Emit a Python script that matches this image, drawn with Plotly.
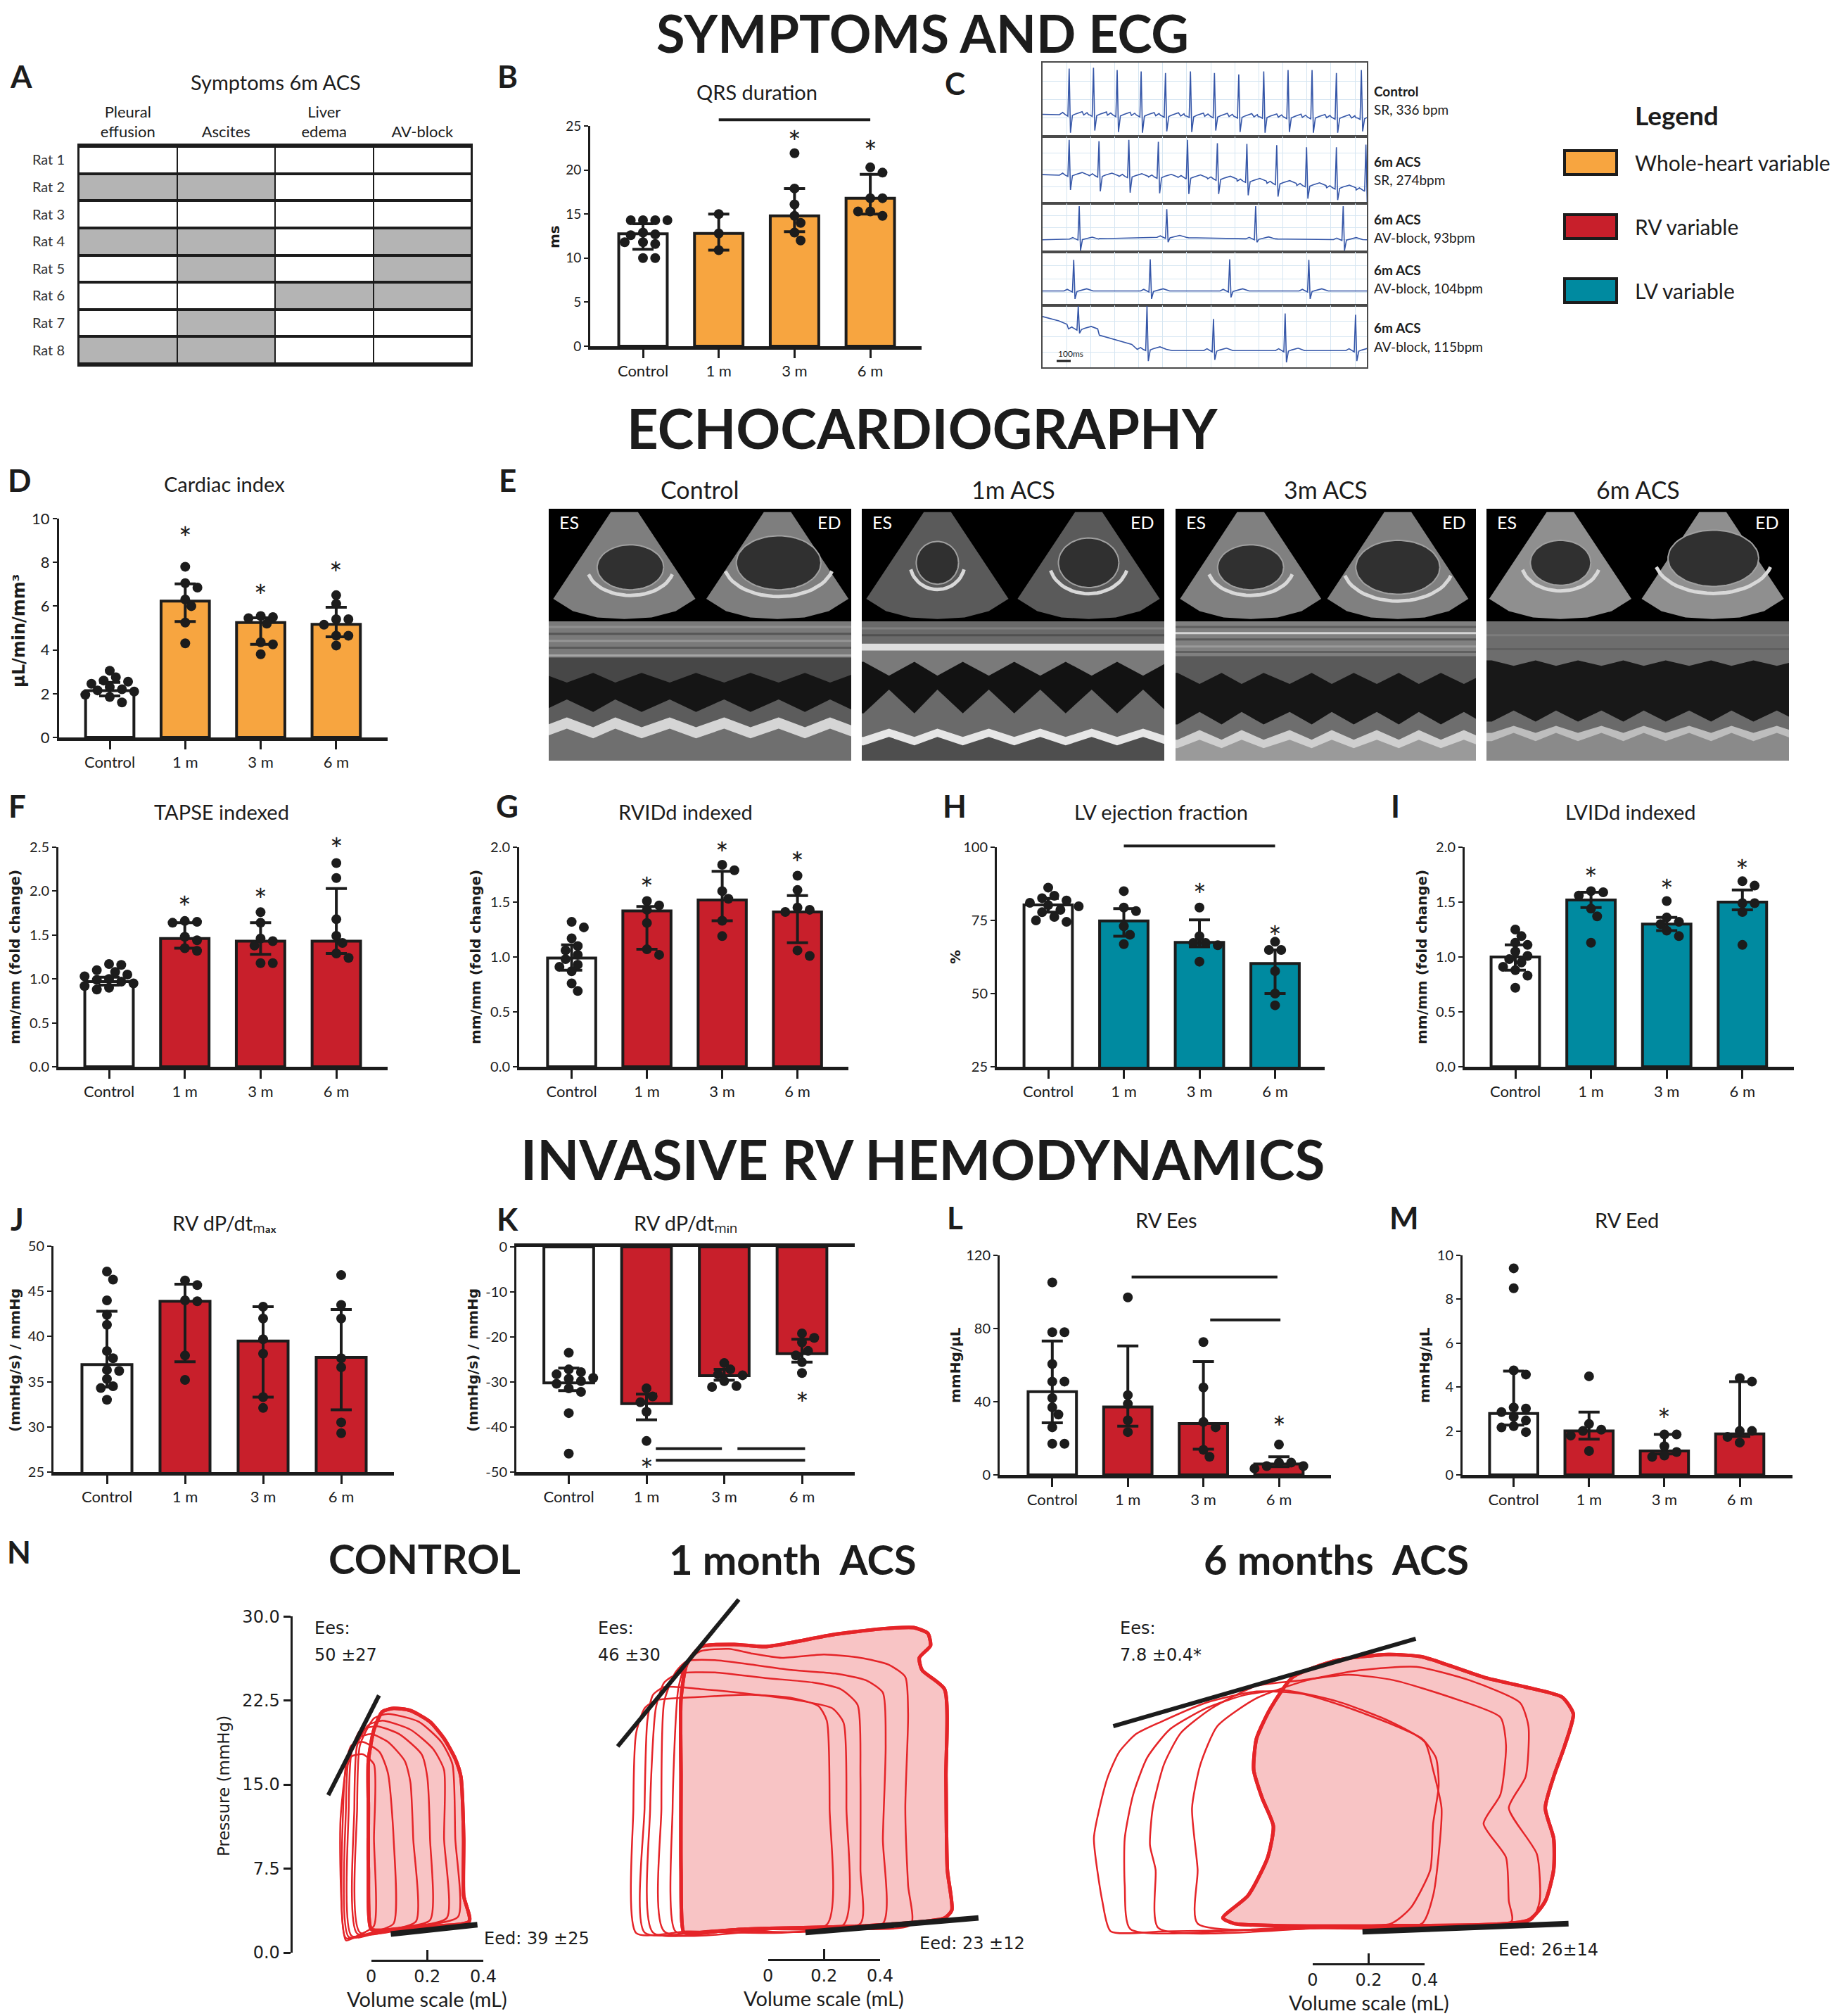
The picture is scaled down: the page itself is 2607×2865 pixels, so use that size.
import numpy as np
import plotly.graph_objects as go

W, H = 2607, 2865
FONT = "Lato, 'Open Sans', sans-serif"
PVFONT = "'DejaVu Sans', Verdana, sans-serif"
YT_FONT = "'DejaVu Sans', Verdana, sans-serif"
INK = "#1c1c1c"
ORANGE = "#F7A540"
RED = "#C81F2B"
TEAL = "#008AA0"
CELL_GREY = "#B4B4B4"
LOOP_RED = "#E52428"
LOOP_FILL = "#F8C4C5"
ECG_BLUE = "#3556A8"
GRID_BLUE = "#D6E6F2"

# ======================= DATA =======================
GROUPS = ["Control", "1 m", "3 m", "6 m"]

# A - symptoms table
SYMPTOMS = ["Pleural<br>effusion", "Ascites", "Liver<br>edema", "AV-block"]
RATS = ["Rat 1", "Rat 2", "Rat 3", "Rat 4", "Rat 5", "Rat 6", "Rat 7", "Rat 8"]
SYMPTOM_PRESENT = [[0, 0, 0, 0], [1, 1, 0, 0], [0, 0, 0, 0], [1, 1, 0, 1],
                   [0, 1, 0, 1], [0, 0, 1, 1], [0, 1, 0, 0], [1, 1, 0, 0]]

# B - QRS duration (ms)
QRS_BAR = [12.75, 12.8, 14.8, 16.8]
QRS_LO = [11.0, 10.9, 13.0, 15.0]
QRS_HI = [13.9, 15.0, 17.9, 19.5]
QRS_PTS = [[14.3, 14.3, 14.3, 14.3, 12.9, 12.7, 12.6, 11.8, 11.6, 11.8, 10.0, 10.0],
           [15.0, 12.8, 10.9],
           [21.9, 17.9, 16.1, 14.8, 14.0, 12.9, 12.0],
           [20.3, 19.7, 16.8, 16.8, 15.3, 14.8, 15.3]]

# D - cardiac index
CI_BAR = [2.14, 6.23, 5.25, 5.17]
CI_LO = [1.9, 5.3, 4.25, 4.6]
CI_HI = [2.52, 7.02, 5.47, 5.95]
CI_PTS = [[3.05, 2.75, 2.6, 2.55, 2.45, 2.3, 2.2, 2.15, 2.1, 1.95, 1.85, 1.6],
          [7.8, 7.05, 6.85, 6.3, 6.0, 5.25, 4.3],
          [5.55, 5.5, 5.45, 5.2, 4.35, 4.25, 3.8],
          [6.5, 6.1, 5.4, 5.4, 5.15, 4.65, 4.65, 4.2]]

# F - TAPSE indexed
TAPSE_BAR = [0.97, 1.46, 1.43, 1.43]
TAPSE_LO = [0.93, 1.35, 1.28, 1.29]
TAPSE_HI = [1.02, 1.64, 1.64, 2.03]
TAPSE_PTS = [[1.17, 1.16, 1.10, 1.08, 1.05, 1.03, 1.00, 0.99, 0.97, 0.95, 0.92, 0.90, 0.88],
             [1.66, 1.65, 1.64, 1.48, 1.44, 1.35, 1.32],
             [1.76, 1.64, 1.46, 1.43, 1.38, 1.18, 1.18],
             [2.32, 2.15, 1.68, 1.49, 1.41, 1.29, 1.24]]

# G - RVIDd indexed
RVIDD_BAR = [0.99, 1.42, 1.52, 1.41]
RVIDD_LO = [0.88, 1.07, 1.33, 1.13]
RVIDD_HI = [1.11, 1.46, 1.78, 1.56]
RVIDD_PTS = [[1.32, 1.27, 1.17, 1.10, 1.06, 1.02, 0.98, 0.93, 0.91, 0.87, 0.76, 0.69],
             [1.51, 1.47, 1.43, 1.31, 1.07, 1.02],
             [1.84, 1.79, 1.60, 1.53, 1.33, 1.19],
             [1.74, 1.61, 1.45, 1.43, 1.41, 1.06, 1.01]]

# H - LV ejection fraction (%)
LVEF_BAR = [80.3, 74.8, 67.5, 60.3]
LVEF_LO = [77.8, 69.6, 66.0, 50.0]
LVEF_HI = [82.5, 79.0, 75.2, 64.9]
LVEF_PTS = [[86.2, 83.4, 82.6, 81.8, 81.0, 80.2, 79.8, 78.6, 77.8, 76.2, 75.0, 74.5],
            [85.0, 79.4, 78.2, 73.0, 70.1, 66.9],
            [79.4, 69.6, 67.3, 67.3, 66.5, 60.9],
            [67.7, 64.9, 64.9, 57.7, 50.0, 46.0]]

# I - LVIDd indexed
LVIDD_BAR = [1.00, 1.52, 1.30, 1.50]
LVIDD_LO = [0.88, 1.45, 1.24, 1.43]
LVIDD_HI = [1.11, 1.59, 1.36, 1.61]
LVIDD_PTS = [[1.25, 1.19, 1.13, 1.11, 1.05, 1.01, 0.98, 0.95, 0.91, 0.88, 0.83, 0.72],
             [1.60, 1.59, 1.56, 1.44, 1.37, 1.13],
             [1.51, 1.36, 1.32, 1.30, 1.24, 1.19],
             [1.69, 1.65, 1.49, 1.49, 1.41, 1.11]]

# J - RV dP/dt max
DPMAX_BAR = [36.9, 43.9, 39.5, 37.7]
DPMAX_LO = [34.4, 37.2, 33.3, 31.9]
DPMAX_HI = [42.8, 45.8, 43.3, 43.0]
DPMAX_PTS = [[47.2, 46.3, 44.0, 42.4, 41.3, 38.4, 37.6, 36.3, 36.2, 35.3, 34.5, 34.3, 33.0],
             [46.2, 45.7, 44.0, 43.9, 37.9, 35.2],
             [43.3, 42.0, 39.7, 38.1, 33.3, 32.1],
             [46.8, 43.5, 42.0, 37.6, 36.6, 30.5, 29.3]]

# K - RV dP/dt min
DPMIN_BAR = [-30.2, -34.8, -28.6, -23.7]
DPMIN_LO = [-31.9, -38.4, -29.6, -25.6]
DPMIN_HI = [-26.9, -32.7, -27.2, -20.5]
DPMIN_PTS = [[-23.5, -27.2, -27.8, -28.3, -29.1, -29.3, -29.8, -30.4, -31.4, -32.2, -36.9, -45.9],
             [-31.4, -33.2, -34.5, -36.6, -43.1],
             [-25.8, -27.2, -28.3, -28.5, -29.8, -30.9, -31.1],
             [-19.2, -20.2, -21.2, -23.1, -24.1, -25.6, -28.0]]

# L - RV Ees
EES_BAR = [45.5, 37.1, 28.1, 6.0]
EES_LO = [28.5, 26.6, 14.0, 4.5]
EES_HI = [73.2, 70.5, 61.9, 9.9]
EES_PTS = [[105.2, 78, 78, 60.6, 51, 51, 42, 36.9, 33, 26, 17, 17],
           [97, 43.6, 38.8, 29.8, 23.4],
           [72.6, 47.8, 28.9, 26, 13.7, 9.9],
           [16.6, 6.7, 6.7, 4.8, 4.8, 3.5]]

# M - RV Eed
EED_BAR = [2.8, 2.0, 1.09, 1.87]
EED_LO = [2.27, 1.63, 0.95, 1.75]
EED_HI = [4.73, 2.86, 1.84, 4.25]
EED_PTS = [[9.41, 8.5, 4.76, 4.57, 3.07, 3.02, 2.86, 2.64, 2.48, 2.22, 2.16, 1.95],
           [4.49, 2.32, 2.06, 2.0, 1.79, 1.09],
           [1.84, 1.84, 1.31, 1.04, 0.88, 0.82],
           [4.41, 4.25, 2.0, 2.0, 1.73, 1.47]]

# C - ECG strips (R-peak positions as fraction of strip width, levels as fraction of height)
ECG_TITLES = ["Control", "6m ACS", "6m ACS", "6m ACS", "6m ACS"]
ECG_RHYTHM = ["SR, 336 bpm", "SR, 274bpm", "AV-block, 93bpm", "AV-block, 104bpm", "AV-block, 115bpm"]
ECG_PEAKS = [[0.082, 0.157, 0.230, 0.304, 0.379, 0.456, 0.530, 0.605, 0.682, 0.757, 0.831, 0.906, 0.983],
             [0.082, 0.174, 0.266, 0.357, 0.447, 0.539, 0.630, 0.722, 0.814, 0.906, 0.997],
             [0.113, 0.383, 0.657, 0.927],
             [0.096, 0.332, 0.577, 0.821],
             [0.110, 0.322, 0.527, 0.748, 0.965]]
ECG_TOPS = [[0.92, 0.93, 0.90, 0.88, 0.86, 0.88, 0.86, 0.84, 0.88, 0.90, 0.90, 0.86, 0.90],
            [0.95, 0.93, 0.95, 0.92, 0.95, 0.90, 0.89, 0.87, 0.84, 0.84, 0.88],
            [0.94, 0.88, 0.94, 0.94],
            [0.85, 0.86, 0.86, 0.85],
            [0.99, 0.99, 0.78, 0.87, 0.85]]
ECG_DIPS = [[0.05, 0.08, 0.06, 0.05, 0.07, 0.06, 0.08, 0.06, 0.05, 0.06, 0.05, 0.05, 0.07],
            [0.20, 0.18, 0.16, 0.15, 0.14, 0.14, 0.12, 0.10, 0.07, 0.05, 0.02],
            [0.03, 0.20, 0.20, 0.03],
            [0.12, 0.12, 0.15, 0.12],
            [0.55, 0.10, 0.12, 0.08, 0.10]]
ECG_BASE_X = [[0, 1], [0, 0.5, 1], [0, 0.38, 0.65, 1], [0, 1], [0, 0.05, 0.11, 0.2, 0.31, 0.33, 1]]
ECG_BASE_Y = [[0.30, 0.25], [0.43, 0.38, 0.20], [0.25, 0.30, 0.27, 0.25], [0.27, 0.27],
              [0.82, 0.75, 0.62, 0.48, 0.32, 0.27, 0.27]]

LEGEND_LABELS = ["Whole-heart variable", "RV variable", "LV variable"]
LEGEND_COLORS = [ORANGE, RED, TEAL]

# E - echo panels (picture descriptors)
ECHO_TITLES = ["Control", "1m ACS", "3m ACS", "6m ACS"]
FAN_CENTERS = [[0.25, 0.756], [0.25, 0.75], [0.25, 0.74], [0.244, 0.748]]
FAN_GREY = ["#7e7e7e", "#5a5a5a", "#808080", "#8f8f8f"]
CAVITIES = [[(0.27, 0.48, 0.11, 0.20), (0.76, 0.52, 0.14, 0.24)],
            [(0.25, 0.52, 0.07, 0.19), (0.75, 0.52, 0.10, 0.22)],
            [(0.25, 0.48, 0.11, 0.20), (0.74, 0.48, 0.14, 0.24)],
            [(0.245, 0.52, 0.10, 0.20), (0.75, 0.56, 0.15, 0.25)]]
MMODE_PEAKS = [[0.06, 0.22, 0.40, 0.58, 0.76, 0.93],
               [0.09, 0.25, 0.42, 0.59, 0.76, 0.93],
               [0.08, 0.22, 0.38, 0.52, 0.67, 0.81, 0.96],
               [0.09, 0.23, 0.38, 0.52, 0.67, 0.81, 0.96]]
MMODE_LAYERS = [[("#7a7a7a", 0.26, 0.26), ("#474747", 0.44, 0.37), ("#151515", 0.56, 0.65),
                 ("#5c5c5c", 0.69, 0.76), ("#d5d5d5", 0.77, 0.84)],
                [("#6a6a6a", 0.16, 0.16), ("#dddddd", 0.21, 0.21), ("#7a7a7a", 0.39, 0.29),
                 ("#121212", 0.49, 0.66), ("#6a6a6a", 0.77, 0.83), ("#e6e6e6", 0.83, 0.89)],
                [("#808080", 0.25, 0.25), ("#5a5a5a", 0.45, 0.37), ("#161616", 0.65, 0.74),
                 ("#6e6e6e", 0.78, 0.85), ("#cfcfcf", 0.85, 0.91)],
                [("#6d6d6d", 0.32, 0.28), ("#181818", 0.64, 0.72), ("#6a6a6a", 0.75, 0.80),
                 ("#bdbdbd", 0.80, 0.86)]]
MMODE_FLOOR = ["#6f6f6f", "#4e4e4e", "#9a9a9a", "#8a8a8a"]
# horizontal striations in the near-field band (depth, shade)
MMODE_STRIPES = [[(0.04, "#909090"), (0.09, "#555555"), (0.14, "#959595"), (0.19, "#5a5a5a"),
                  (0.245, "#a5a5a5")],
                 [(0.05, "#808080"), (0.10, "#505050")],
                 [(0.04, "#5e5e5e"), (0.085, "#d5d5d5"), (0.13, "#5a5a5a"), (0.18, "#9a9a9a"),
                  (0.22, "#606060")],
                 [(0.10, "#7c7c7c"), (0.20, "#5f5f5f")]]

# N - pressure-volume loops (V in mL relative to scale bar zero, P in mmHg); first loop = thick filled
CTRL_LOOPS_V = [[0.00, -0.01, -0.01, -0.01, 0.01, 0.04, 0.08, 0.14, 0.21, 0.26, 0.30, 0.32, 0.33, 0.33, 0.35, 0.17, 0.04],
                [-0.04, -0.05, -0.04, 0.01, 0.06, 0.17, 0.25, 0.29, 0.30, 0.31, 0.17],
                [-0.05, -0.06, -0.05, -0.01, 0.04, 0.14, 0.22, 0.26, 0.26, 0.27, 0.12],
                [-0.07, -0.08, -0.07, -0.04, 0.02, 0.10, 0.18, 0.20, 0.21, 0.21, 0.06],
                [-0.08, -0.09, -0.08, -0.05, 0.00, 0.06, 0.12, 0.14, 0.15, 0.16, 0.04],
                [-0.09, -0.10, -0.09, -0.07, -0.03, 0.03, 0.06, 0.08, 0.08, 0.00],
                [-0.09, -0.11, -0.09, -0.07, -0.03, 0.01, 0.01, 0.01, -0.05]]
CTRL_LOOPS_P = [[2.1, 7.4, 12.9, 17.1, 19.9, 21.5, 21.8, 21.6, 20.6, 19.1, 17.3, 15.7, 10.2, 5.1, 2.8, 2.3, 2.0],
                [1.8, 12.9, 18.5, 20.9, 21.3, 20.6, 18.8, 16.8, 10.2, 3.2, 2.4],
                [1.7, 12.9, 18.5, 20.3, 20.7, 19.9, 18.2, 16.3, 10.2, 3.1, 2.2],
                [1.5, 12.9, 17.9, 19.8, 20.2, 19.5, 17.7, 15.7, 10.2, 2.9, 2.1],
                [1.4, 12.9, 17.4, 19.1, 19.5, 18.8, 17.1, 15.2, 10.2, 2.8, 1.9],
                [1.3, 12.9, 16.8, 18.5, 18.8, 17.9, 16.0, 10.2, 2.6, 1.8],
                [1.1, 11.5, 16.3, 17.5, 17.7, 16.8, 10.2, 2.4, 1.5]]
CTRL_ESPVR_V, CTRL_ESPVR_P = [-0.153, 0.028], [14.05, 22.95]
CTRL_EDPVR_V, CTRL_EDPVR_P = [0.07, 0.379], [1.67, 2.5]

M1_LOOPS_V = [[-0.30, -0.31, -0.31, -0.31, -0.29, -0.24, -0.12, -0.01, 0.07, 0.24, 0.41, 0.52, 0.57, 0.58, 0.54, 0.55, 0.63, 0.635, 0.64, 0.656, 0.63, 0.35, -0.08, -0.27],
              [-0.33, -0.34, -0.32, -0.29, -0.24, -0.14, -0.06, 0.05, 0.20, 0.33, 0.43, 0.49, 0.50, 0.49, 0.50, 0.51, 0.13, -0.19],
              [-0.37, -0.38, -0.37, -0.33, -0.29, -0.19, -0.06, 0.09, 0.24, 0.35, 0.41, 0.42, 0.41, 0.41, 0.03],
              [-0.41, -0.42, -0.40, -0.37, -0.32, -0.19, -0.01, 0.16, 0.26, 0.32, 0.33, 0.33, 0.33, -0.08],
              [-0.44, -0.44, -0.43, -0.41, -0.37, -0.23, -0.04, 0.11, 0.23, 0.27, 0.28, 0.27, -0.19],
              [-0.47, -0.48, -0.47, -0.44, -0.40, -0.25, -0.06, 0.09, 0.18, 0.21, 0.22, 0.21, -0.29]]
M1_LOOPS_P = [[1.8, 7.4, 15.7, 22.7, 25.7, 27.3, 27.5, 27.3, 27.6, 28.4, 28.9, 29.0, 28.5, 27.4, 26.3, 25.2, 23.5, 15.7, 7.4, 3.8, 3.1, 2.4, 2.1, 1.75],
              [1.9, 12.9, 23.5, 26.0, 26.9, 27.1, 26.7, 26.3, 26.6, 26.3, 25.7, 24.6, 21.3, 12.9, 6.0, 2.5, 2.2, 1.9],
              [1.9, 12.9, 22.4, 25.0, 26.0, 26.1, 25.7, 25.2, 24.9, 24.3, 23.2, 18.5, 10.2, 2.6, 2.1],
              [1.8, 12.9, 21.8, 24.1, 24.9, 25.0, 24.5, 24.1, 23.5, 22.1, 15.7, 7.4, 2.6, 2.1],
              [1.8, 12.9, 20.7, 23.0, 23.7, 23.5, 23.0, 22.5, 21.8, 20.5, 12.9, 2.5, 2.0],
              [1.75, 12.9, 19.6, 21.8, 22.5, 22.8, 23.0, 22.7, 22.0, 20.7, 12.9, 2.5, 1.9]]
M1_ESPVR_V, M1_ESPVR_P = [-0.536, -0.104], [18.4, 31.5]
M1_EDPVR_V, M1_EDPVR_P = [0.134, 0.751], [1.8, 3.1]

M6_LOOPS_V = [[-0.32, -0.23, -0.16, -0.14, -0.18, -0.21, -0.20, -0.15, -0.07, 0.09, 0.27, 0.39, 0.49, 0.62, 0.76, 0.89, 0.93, 0.90, 0.86, 0.83, 0.86, 0.86, 0.83, 0.77, 0.29, -0.12, -0.28],
              [-0.72, -0.75, -0.78, -0.76, -0.73, -0.69, -0.63, -0.54, -0.38, -0.20, -0.04, 0.11, 0.27, 0.39, 0.44, 0.45, 0.43, 0.42, 0.35, 0.28, -0.12, -0.53],
              [-0.65, -0.67, -0.67, -0.64, -0.59, -0.51, -0.38, -0.24, -0.10, 0.09, 0.27, 0.40, 0.43, 0.46, 0.45, 0.43, 0.39, -0.12],
              [-0.55, -0.56, -0.58, -0.57, -0.53, -0.47, -0.36, -0.20, -0.04, 0.13, 0.29, 0.49, 0.67, 0.69, 0.67, 0.61, 0.69, 0.70, 0.71, 0.09],
              [-0.41, -0.41, -0.43, -0.40, -0.34, -0.20, -0.02, 0.17, 0.37, 0.56, 0.74, 0.77, 0.76, 0.70, 0.80, 0.81, 0.78, 0.29]]
M6_LOOPS_P = [[3.1, 5.1, 8.5, 11.3, 13.8, 16.3, 19.1, 21.8, 24.6, 26.1, 26.6, 26.4, 25.6, 24.5, 23.7, 22.8, 21.3, 18.5, 15.7, 12.9, 10.2, 7.4, 4.6, 2.9, 2.4, 2.4, 2.6],
              [1.9, 4.6, 10.2, 12.9, 15.7, 17.9, 19.5, 20.6, 22.3, 23.3, 23.1, 22.0, 20.5, 19.1, 17.4, 14.9, 11.5, 7.4, 4.0, 2.6, 2.1, 1.9],
              [2.1, 6.0, 10.2, 14.1, 17.4, 19.9, 21.8, 23.0, 23.4, 22.4, 20.7, 18.8, 16.3, 12.9, 8.8, 5.1, 2.6, 2.2],
              [2.2, 7.4, 9.6, 12.9, 16.8, 19.6, 21.8, 23.8, 24.3, 24.8, 24.3, 22.8, 21.0, 18.5, 14.1, 11.5, 8.5, 4.6, 2.8, 2.3],
              [2.6, 7.4, 12.9, 16.8, 20.2, 22.7, 24.3, 25.2, 25.5, 24.3, 22.3, 20.2, 15.7, 12.9, 8.8, 4.6, 2.9, 2.5]]
M6_ESPVR_V, M6_ESPVR_P = [-0.711, 0.368], [20.2, 28.0]
M6_EDPVR_V, M6_EDPVR_P = [0.178, 0.913], [1.86, 2.59]

PRESSURE_TICKS = [0, 7.5, 15, 22.5, 30]
PRESSURE_TICKTEXT = ["0.0", "7.5", "15.0", "22.5", "30.0"]
VOLUME_TICKS = [0, 0.2, 0.4]
VOLUME_TICKTEXT = ["0", "0.2", "0.4"]

# ======================= HELPERS =======================
fig = go.Figure()
LAYOUT = {}
ANN = []
SHAPES = []
_count = [0]


def make_axes(x0, x1, ytop, ybot, xrange, yrange, xa=None, ya=None):
    _count[0] += 1
    n = _count[0]
    s = "" if n == 1 else str(n)
    xr, yr = "x" + s, "y" + s
    xd = dict(domain=[max(0, x0 / W), min(1, x1 / W)], range=xrange, anchor=yr, visible=False,
              fixedrange=True, showgrid=False, zeroline=False)
    yd = dict(domain=[max(0, 1 - ybot / H), min(1, 1 - ytop / H)], range=yrange, anchor=xr,
              visible=False, fixedrange=True, showgrid=False, zeroline=False)
    if xa:
        xd.update(xa)
    if ya:
        yd.update(ya)
    LAYOUT["xaxis" + s] = xd
    LAYOUT["yaxis" + s] = yd
    return xr, yr


def text(t, x, y, size, bold=False, xanchor="center", yanchor="middle", angle=0,
         color=INK, family=FONT):
    ANN.append(dict(text=("<b>%s</b>" % t) if bold else t, x=x / W, y=1 - y / H,
                    xref="paper", yref="paper", showarrow=False, xanchor=xanchor,
                    yanchor=yanchor, textangle=angle,
                    font=dict(size=size, color=color, family=family)))


def dummy(xr, yr, x=0, y=0):
    fig.add_trace(go.Scatter(x=[x], y=[y], mode="markers", marker=dict(opacity=0),
                             xaxis=xr, yaxis=yr, hoverinfo="skip", showlegend=False))


def swarm(vals, ppu, step, d=14.0):
    placed, out = [], []
    cands = [0.0]
    for k in range(1, 9):
        cands += [k * 0.62 * d, -k * 0.62 * d]
    for v in vals:
        dx = 0.0
        for c in cands:
            if all((c - pdx) ** 2 + ((v - pv) * ppu) ** 2 >= (0.88 * d) ** 2 for pdx, pv in placed):
                dx = c
                break
        placed.append((dx, v))
        out.append(dx / step)
    return out


def bar_panel(g, yrange, ytv, ytt, bars, lo, hi, pts, color, ytick_size=20,
              stars=(), brackets=(), mirror_x=False):
    left, right, cat0, step, top, bot = g
    xrange = [(left - cat0) / step, (right - cat0) / step]
    xa = dict(visible=True, showline=True, linewidth=5, linecolor=INK, ticks="outside",
              ticklen=12, tickwidth=3, tickcolor=INK, tickvals=[0, 1, 2, 3], ticktext=GROUPS,
              tickfont=dict(size=22, family=FONT, color=INK), mirror=mirror_x)
    ya = dict(visible=True, showline=True, linewidth=3, linecolor=INK, ticks="outside",
              ticklen=6, tickwidth=2, tickcolor=INK, tickvals=ytv, ticktext=ytt,
              tickfont=dict(size=ytick_size, family=FONT, color=INK))
    xr, yr = make_axes(left, right, top, bot, xrange, yrange, xa, ya)
    fig.add_trace(go.Bar(
        x=[0, 1, 2, 3], y=bars, width=0.64, xaxis=xr, yaxis=yr, showlegend=False,
        marker=dict(color=["#ffffff", color, color, color], line=dict(color=INK, width=4)),
        error_y=dict(type="data", symmetric=False, array=[h - b for h, b in zip(hi, bars)],
                     arrayminus=[b - l for b, l in zip(bars, lo)], color=INK, thickness=4,
                     width=15), hoverinfo="skip"))
    ppu = (bot - top) / (yrange[1] - yrange[0])
    xs, ys = [], []
    for i, vals in enumerate(pts):
        offs = swarm(vals, ppu, step)
        xs += [i + o for o in offs]
        ys += list(vals)
    fig.add_trace(go.Scatter(x=xs, y=ys, mode="markers", marker=dict(size=14, color=INK),
                             xaxis=xr, yaxis=yr, showlegend=False, cliponaxis=False,
                             hoverinfo="skip"))
    # overlay axes (same scale, extended upwards) for significance marks
    if stars or brackets:
        ext = 60.0
        oxr, oyr = make_axes(left, right, top - ext, bot, xrange,
                             [yrange[0], yrange[1] + ext / ppu])
        for a, b, v in brackets:
            fig.add_trace(go.Scatter(x=[a, b], y=[v, v], mode="lines",
                                     line=dict(color=INK, width=4), xaxis=oxr, yaxis=oyr,
                                     hoverinfo="skip", showlegend=False))
        for c, v in stars:
            ANN.append(dict(x=c, y=v, xref=oxr, yref=oyr, text="*", showarrow=False,
                            yshift=-8, font=dict(size=44, family=FONT, color=INK)))
    return xr, yr


def poly(xs, ys, color, xr, yr, lcolor=None, lw=0):
    fig.add_trace(go.Scatter(x=list(xs) + [xs[0]], y=list(ys) + [ys[0]], fill="toself",
                             fillcolor=color, mode="lines",
                             line=dict(color=lcolor or color, width=lw),
                             xaxis=xr, yaxis=yr, hoverinfo="skip", showlegend=False))


# ======================= SECTION TITLES =======================
text("SYMPTOMS AND ECG", 1311, 0, 74, bold=True, yanchor="top")
text("ECHOCARDIOGRAPHY", 1311, 608, 78, bold=True)
text("INVASIVE RV HEMODYNAMICS", 1311, 1647, 78, bold=True)

for letter, lx, ly in [("A", 30, 108), ("B", 721, 108), ("C", 1357, 118), ("D", 27, 682),
                       ("E", 721, 682), ("F", 24, 1145), ("G", 721, 1145), ("H", 1357, 1145),
                       ("I", 1983, 1145), ("J", 24, 1732), ("K", 721, 1732), ("L", 1357, 1730),
                       ("M", 1996, 1730), ("N", 27, 2205)]:
    text(letter, lx, ly, 44, bold=True)

# ======================= A: table =======================
text("Symptoms 6m ACS", 392, 117, 29)
xr, yr = make_axes(112, 670, 208, 517, [-0.5, 3.5], [7.5, -0.5],
                   xa=dict(visible=True, side="top", showline=True, mirror=True, linewidth=4,
                           linecolor=INK, ticks="", tickvals=[0, 1, 2, 3], ticktext=SYMPTOMS,
                           tickfont=dict(size=22, family=FONT, color=INK)),
                   ya=dict(visible=True, showline=True, mirror=True, linewidth=2, linecolor=INK,
                           ticks="", tickvals=list(range(8)), ticktext=RATS,
                           ticklabelstandoff=14,
                           tickfont=dict(size=20, family=FONT, color="#333333")))
SHAPES.append(dict(type="rect", xref=xr + " domain", yref=yr + " domain", x0=0, x1=1, y0=0,
                   y1=1, fillcolor=INK, line=dict(width=0), layer="below"))
fig.add_trace(go.Heatmap(z=SYMPTOM_PRESENT, x=[0, 1, 2, 3], y=list(range(8)), xaxis=xr,
                         yaxis=yr, colorscale=[[0, "#ffffff"], [1, CELL_GREY]], zmin=0, zmax=1,
                         showscale=False, xgap=2, ygap=4, hoverinfo="skip"))

# ======================= B =======================
text("QRS duration", 1076, 130, 29)
bar_panel((839, 1310, 914, 107.7, 179, 492), [0, 25], [0, 5, 10, 15, 20, 25],
          ["0", "5", "10", "15", "20", "25"], QRS_BAR, QRS_LO, QRS_HI, QRS_PTS, ORANGE,
          ytick_size=19, stars=[(2, 23.9), (3, 22.8)], brackets=[(1, 3, 25.7)])
text("ms", 788, 337, 20, bold=True, angle=-90, family=YT_FONT)

# ======================= C: ECG =======================
ECG_ROWS_PX = [(89, 194), (194, 289), (289, 358), (358, 434), (434, 522)]
for k, (ytop, ybot) in enumerate(ECG_ROWS_PX):
    xr, yr = make_axes(1482, 1943, ytop, ybot, [0, 1], [0, 1],
                       xa=dict(visible=True, showline=True, mirror=True, linewidth=2,
                               linecolor="#4a4a4a", showgrid=True, gridcolor=GRID_BLUE,
                               gridwidth=1, tick0=0, dtick=0.0741, ticks="",
                               showticklabels=False),
                       ya=dict(visible=True, showline=True, mirror=True, linewidth=2,
                               linecolor="#4a4a4a", showgrid=True, gridcolor=GRID_BLUE,
                               gridwidth=1, tick0=0, dtick=0.25, ticks="",
                               showticklabels=False))
    bx, by = ECG_BASE_X[k], ECG_BASE_Y[k]
    pts = []
    windows = []
    for t, top, dip in zip(ECG_PEAKS[k], ECG_TOPS[k], ECG_DIPS[k]):
        b = float(np.interp(t, bx, by))
        seq = [(t - 0.03, b), (t - 0.02, b + 0.03), (t - 0.012, b), (t - 0.004, b - 0.02),
               (t, top), (t + 0.004, dip), (t + 0.01, b - 0.01), (t + 0.02, b + 0.01),
               (t + 0.04, b + 0.04), (t + 0.06, b)]
        pts += seq
        windows.append((t - 0.03, t + 0.06))
    for x in list(bx) + list(np.linspace(0, 1, 41)):
        if not any(a <= x <= c for a, c in windows):
            pts.append((x, float(np.interp(x, bx, by))))
    pts.sort(key=lambda p: p[0])
    fig.add_trace(go.Scatter(x=[p[0] for p in pts], y=[p[1] for p in pts], mode="lines",
                             line=dict(color=ECG_BLUE, width=1.6), xaxis=xr, yaxis=yr,
                             hoverinfo="skip", showlegend=False))
    yc = (ytop + ybot) / 2
    text(ECG_TITLES[k], 1951, yc - 12, 19, bold=True, xanchor="left")
    text(ECG_RHYTHM[k], 1951, yc + 14, 19, xanchor="left")
text("100ms", 1502, 503, 12, xanchor="left")
SHAPES.append(dict(type="line", xref="paper", yref="paper", x0=1502 / W, x1=1522 / W,
                   y0=1 - 513 / H, y1=1 - 513 / H, line=dict(color=INK, width=3)))

# Legend
text("Legend", 2383, 164, 37, bold=True)
for k, (lab, col) in enumerate(zip(LEGEND_LABELS, LEGEND_COLORS)):
    yc = 231 + 91 * k
    SHAPES.append(dict(type="rect", xref="paper", yref="paper", x0=2224 / W, x1=2298 / W,
                       y0=1 - (yc + 17) / H, y1=1 - (yc - 17) / H, fillcolor=col,
                       line=dict(color=INK, width=4)))
    text(lab, 2322, yc, 30, xanchor="left")

# ======================= D =======================
text("Cardiac index", 319, 687, 29)
bar_panel((84, 551, 156, 107.3, 737, 1048), [0, 10], [0, 2, 4, 6, 8, 10],
          ["0", "2", "4", "6", "8", "10"], CI_BAR, CI_LO, CI_HI, CI_PTS, ORANGE,
          ytick_size=22, stars=[(1, 9.38), (2, 6.75), (3, 7.77)])
text("μL/min/mm³", 27, 897, 24, bold=True, angle=-90, family=YT_FONT)

# ======================= E: echo =======================
ECHO_X = [(780, 1210), (1225, 1655), (1671, 2098), (2113, 2543)]
MM_TOP = 198 / 358.0
th = np.linspace(0, 2 * np.pi, 60)
arc = np.linspace(np.pi * 1.08, np.pi * 1.92, 25)
for k, (x0, x1) in enumerate(ECHO_X):
    text(ECHO_TITLES[k], (x0 + x1) / 2, 695, 34)
    xr, yr = make_axes(x0, x1, 723, 1081, [0, 1], [0, 1])
    # M-mode
    poly([0, 1, 1, 0], [0, 0, MM_TOP, MM_TOP], MMODE_FLOOR[k], xr, yr)
    peaks = MMODE_PEAKS[k]
    sp = float(np.mean(np.diff(peaks)))
    for col, dpk, dvl in reversed(MMODE_LAYERS[k]):
        kx, ky = [peaks[0] - sp / 2], [dvl]
        for i, p in enumerate(peaks):
            kx.append(p)
            ky.append(dpk)
            kx.append(p + sp / 2)
            ky.append(dvl)
        gx = sorted(set([0.0, 1.0] + [x for x in kx if 0 < x < 1]))
        gd = np.interp(gx, kx, ky)
        bxs = [0, 1] + gx[::-1]
        bys = [MM_TOP, MM_TOP] + [MM_TOP * (1 - d) for d in gd[::-1]]
        poly(bxs, bys, col, xr, yr)
    for d, shade in MMODE_STRIPES[k]:
        fig.add_trace(go.Scatter(x=[0, 1], y=[MM_TOP * (1 - d)] * 2, mode="lines",
                                 line=dict(color=shade, width=3), xaxis=xr, yaxis=yr,
                                 hoverinfo="skip", showlegend=False))
    # 2D images
    poly([0, 1, 1, 0], [MM_TOP, MM_TOP, 1, 1], "#000000", xr, yr)

    def v2y(v):
        return MM_TOP + v * (1 - MM_TOP)

    for j, c in enumerate(FAN_CENTERS[k]):
        fu = [c - 0.045, c + 0.045, c + 0.235, c + 0.17, c + 0.09, c, c - 0.09, c - 0.17, c - 0.235]
        fv = [0.97, 0.97, 0.2, 0.09, 0.035, 0.02, 0.035, 0.09, 0.2]
        poly(fu, [v2y(v) for v in fv], FAN_GREY[k], xr, yr)
        cu, cv, ru, rv = CAVITIES[k][j]
        poly(list(cu + ru * np.cos(th)), [v2y(cv + rv * np.sin(t)) for t in th], "#303030", xr, yr,
             lcolor="#a0a0a0", lw=2)
        # bright posterior wall below the cavity
        fig.add_trace(go.Scatter(x=list(cu + 1.3 * ru * np.cos(arc)),
                                 y=[v2y(cv + 1.25 * rv * np.sin(t)) for t in arc],
                                 mode="lines", line=dict(color="#d8d8d8", width=5),
                                 xaxis=xr, yaxis=yr, hoverinfo="skip", showlegend=False))
    ANN.append(dict(x=0.03, y=v2y(0.88), xref=xr, yref=yr, text="ES", showarrow=False,
                    xanchor="left", font=dict(size=25, color="white", family=FONT)))
    ANN.append(dict(x=0.97, y=v2y(0.88), xref=xr, yref=yr, text="ED", showarrow=False,
                    xanchor="right", font=dict(size=25, color="white", family=FONT)))

# ======================= F-I =======================
text("TAPSE indexed", 315, 1153, 29)
bar_panel((83, 551, 155, 107.7, 1204, 1516), [0, 2.5], [0, 0.5, 1, 1.5, 2, 2.5],
          ["0.0", "0.5", "1.0", "1.5", "2.0", "2.5"], TAPSE_BAR, TAPSE_LO, TAPSE_HI, TAPSE_PTS,
          RED, stars=[(1, 1.88), (2, 1.97), (3, 2.55)])
text("mm/mm (fold change)", 21, 1360, 20, bold=True, angle=-90, family=YT_FONT)

text("RVIDd indexed", 974, 1153, 29)
bar_panel((738, 1206, 812.6, 107, 1204, 1516), [0, 2], [0, 0.5, 1, 1.5, 2],
          ["0.0", "0.5", "1.0", "1.5", "2.0"], RVIDD_BAR, RVIDD_LO, RVIDD_HI, RVIDD_PTS, RED,
          stars=[(1, 1.68), (2, 2.0), (3, 1.91)])
text("mm/mm (fold change)", 676, 1360, 20, bold=True, angle=-90, family=YT_FONT)

text("LV ejection fraction", 1650, 1153, 29)
bar_panel((1417, 1883, 1490, 107.5, 1204, 1516), [25, 100], [25, 50, 75, 100],
          ["25", "50", "75", "100"], LVEF_BAR, LVEF_LO, LVEF_HI, LVEF_PTS, TEAL,
          stars=[(2, 85.8), (3, 71.3)], brackets=[(1, 3, 100.4)])
text("%", 1358, 1360, 20, bold=True, angle=-90, family=YT_FONT)

text("LVIDd indexed", 2317, 1153, 29)
bar_panel((2082, 2550, 2154, 107.6, 1204, 1516), [0, 2], [0, 0.5, 1, 1.5, 2],
          ["0.0", "0.5", "1.0", "1.5", "2.0"], LVIDD_BAR, LVIDD_LO, LVIDD_HI, LVIDD_PTS, TEAL,
          stars=[(1, 1.77), (2, 1.66), (3, 1.84)])
text("mm/mm (fold change)", 2021, 1360, 20, bold=True, angle=-90, family=YT_FONT)

# ======================= J-M =======================
text("RV dP/dtₘₐₓ", 319, 1737, 29)
bar_panel((76, 560, 152, 111, 1771, 2092), [25, 50], [25, 30, 35, 40, 45, 50],
          ["25", "30", "35", "40", "45", "50"], DPMAX_BAR, DPMAX_LO, DPMAX_HI, DPMAX_PTS, RED)
text("(mmHg/s) / mmHg", 21, 1933, 20, bold=True, angle=-90, family=YT_FONT)

text("RV dP/dtₘᵢₙ", 974, 1737, 29)
bar_panel((734, 1215, 808.5, 110.5, 1772, 2092), [-50, 0], [-50, -40, -30, -20, -10, 0],
          ["-50", "-40", "-30", "-20", "-10", "0"], DPMIN_BAR, DPMIN_LO, DPMIN_HI, DPMIN_PTS,
          RED, stars=[(3, -33.5), (1, -48.1)],
          brackets=[(1.12, 1.97, -44.8), (2.17, 3.04, -44.8), (1.12, 3.04, -47.4)],
          mirror_x=True)
text("(mmHg/s) / mmHg", 672, 1933, 20, bold=True, angle=-90, family=YT_FONT)

text("RV Ees", 1658, 1733, 29)
bar_panel((1421, 1892, 1495.8, 107.4, 1784, 2096), [0, 120], [0, 40, 80, 120],
          ["0", "40", "80", "120"], EES_BAR, EES_LO, EES_HI, EES_PTS, RED,
          stars=[(3, 29.2)], brackets=[(1.05, 2.98, 108.2), (2.09, 3.02, 84.7)])
text("mmHg/μL", 1358, 1940, 20, bold=True, angle=-90, family=YT_FONT)

text("RV Eed", 2312, 1733, 29)
bar_panel((2079, 2548, 2151.7, 107.1, 1784, 2096), [0, 10], [0, 2, 4, 6, 8, 10],
          ["0", "2", "4", "6", "8", "10"], EED_BAR, EED_LO, EED_HI, EED_PTS, RED,
          stars=[(2, 2.8)])
text("mmHg/μL", 2025, 1940, 20, bold=True, angle=-90, family=YT_FONT)

# ======================= N: PV loops =======================
S_V = 398.5   # px per mL
S_P = 15.93   # px per mmHg
P0_PX = 2775


def pv_panel(x0, vrange, loops_v, loops_p, es_v, es_p, ed_v, ed_p, bar_y):
    xr, yr = make_axes(x0 + vrange[0] * S_V, x0 + vrange[1] * S_V, P0_PX - 33 * S_P,
                       P0_PX + 1 * S_P, vrange, [-1, 33])
    v, p = loops_v[0], loops_p[0]
    fig.add_trace(go.Scatter(x=v + [v[0]], y=p + [p[0]], mode="lines", fill="toself",
                             fillcolor=LOOP_FILL, line=dict(color=LOOP_RED, width=5,
                                                            shape="spline", smoothing=0.6),
                             xaxis=xr, yaxis=yr, hoverinfo="skip", showlegend=False))
    for v, p in zip(loops_v[1:], loops_p[1:]):
        fig.add_trace(go.Scatter(x=v + [v[0]], y=p + [p[0]], mode="lines",
                                 line=dict(color=LOOP_RED, width=2.5, shape="spline",
                                           smoothing=0.6),
                                 xaxis=xr, yaxis=yr, hoverinfo="skip", showlegend=False))
    v, p = loops_v[0], loops_p[0]
    fig.add_trace(go.Scatter(x=v + [v[0]], y=p + [p[0]], mode="lines",
                             line=dict(color=LOOP_RED, width=5, shape="spline", smoothing=0.6),
                             xaxis=xr, yaxis=yr, hoverinfo="skip", showlegend=False))
    fig.add_trace(go.Scatter(x=es_v, y=es_p, mode="lines", line=dict(color=INK, width=6),
                             xaxis=xr, yaxis=yr, hoverinfo="skip", showlegend=False))
    fig.add_trace(go.Scatter(x=ed_v, y=ed_p, mode="lines", line=dict(color=INK, width=8),
                             xaxis=xr, yaxis=yr, hoverinfo="skip", showlegend=False))
    # volume scale bar
    bxr, byr = make_axes(x0, x0 + 0.4 * S_V, bar_y - 4, bar_y, [0, 0.4], [0, 1],
                         xa=dict(visible=True, showline=True, linewidth=3, linecolor=INK,
                                 ticks="inside", ticklen=14, tickwidth=3, tickcolor=INK,
                                 tickvals=VOLUME_TICKS, ticktext=VOLUME_TICKTEXT,
                                 tickfont=dict(size=24, family=PVFONT, color=INK)))
    dummy(bxr, byr, 0.2, 0.5)
    text("Volume scale (mL)", x0 + 0.2 * S_V, bar_y + 55, 29)


text("CONTROL", 603, 2215, 57, bold=True)
text("1 month  ACS", 1127, 2215, 58, bold=True)
text("6 months  ACS", 1899, 2215, 58, bold=True)

# pressure axis (control)
pxr, pyr = make_axes(415.6, 419, P0_PX - 30 * S_P, P0_PX, [0, 1], [0, 30],
                     ya=dict(visible=True, showline=True, linewidth=3, linecolor=INK,
                             ticks="outside", ticklen=10, tickwidth=3, tickcolor=INK,
                             tickvals=PRESSURE_TICKS, ticktext=PRESSURE_TICKTEXT,
                             tickfont=dict(size=24, family=PVFONT, color=INK)))
dummy(pxr, pyr, 0.5, 15)
text("Pressure (mmHg)", 318, 2538, 23, angle=-90, family=PVFONT)

pv_panel(527.6, [-0.25, 0.45], CTRL_LOOPS_V, CTRL_LOOPS_P, CTRL_ESPVR_V, CTRL_ESPVR_P,
         CTRL_EDPVR_V, CTRL_EDPVR_P, 2785)
pv_panel(1091.6, [-0.6, 0.8], M1_LOOPS_V, M1_LOOPS_P, M1_ESPVR_V, M1_ESPVR_P,
         M1_EDPVR_V, M1_EDPVR_P, 2784)
pv_panel(1865.8, [-0.85, 1.0], M6_LOOPS_V, M6_LOOPS_P, M6_ESPVR_V, M6_ESPVR_P,
         M6_EDPVR_V, M6_EDPVR_P, 2790)

text("Ees:", 445, 2314, 24, xanchor="left", family=PVFONT)
text("50 ±27", 445, 2352, 24, xanchor="left", family=PVFONT)
text("Eed: 39 ±25", 686, 2755, 24, xanchor="left", family=PVFONT)
text("Ees:", 848, 2314, 24, xanchor="left", family=PVFONT)
text("46 ±30", 848, 2352, 24, xanchor="left", family=PVFONT)
text("Eed: 23 ±12", 1305, 2762, 24, xanchor="left", family=PVFONT)
text("Ees:", 1590, 2314, 24, xanchor="left", family=PVFONT)
text("7.8 ±0.4*", 1590, 2352, 24, xanchor="left", family=PVFONT)
text("Eed: 26±14", 2128, 2771, 24, xanchor="left", family=PVFONT)

# ======================= LAYOUT =======================
fig.update_layout(width=W, height=H, margin=dict(l=0, r=0, t=0, b=0, pad=0),
                  paper_bgcolor="white", plot_bgcolor="rgba(0,0,0,0)", template="none",
                  showlegend=False, annotations=ANN, shapes=SHAPES,
                  font=dict(family=FONT, color=INK), **LAYOUT)
fig.write_html("out.html", config={"staticPlot": True},
               post_script="document.body.style.margin='0px';")
